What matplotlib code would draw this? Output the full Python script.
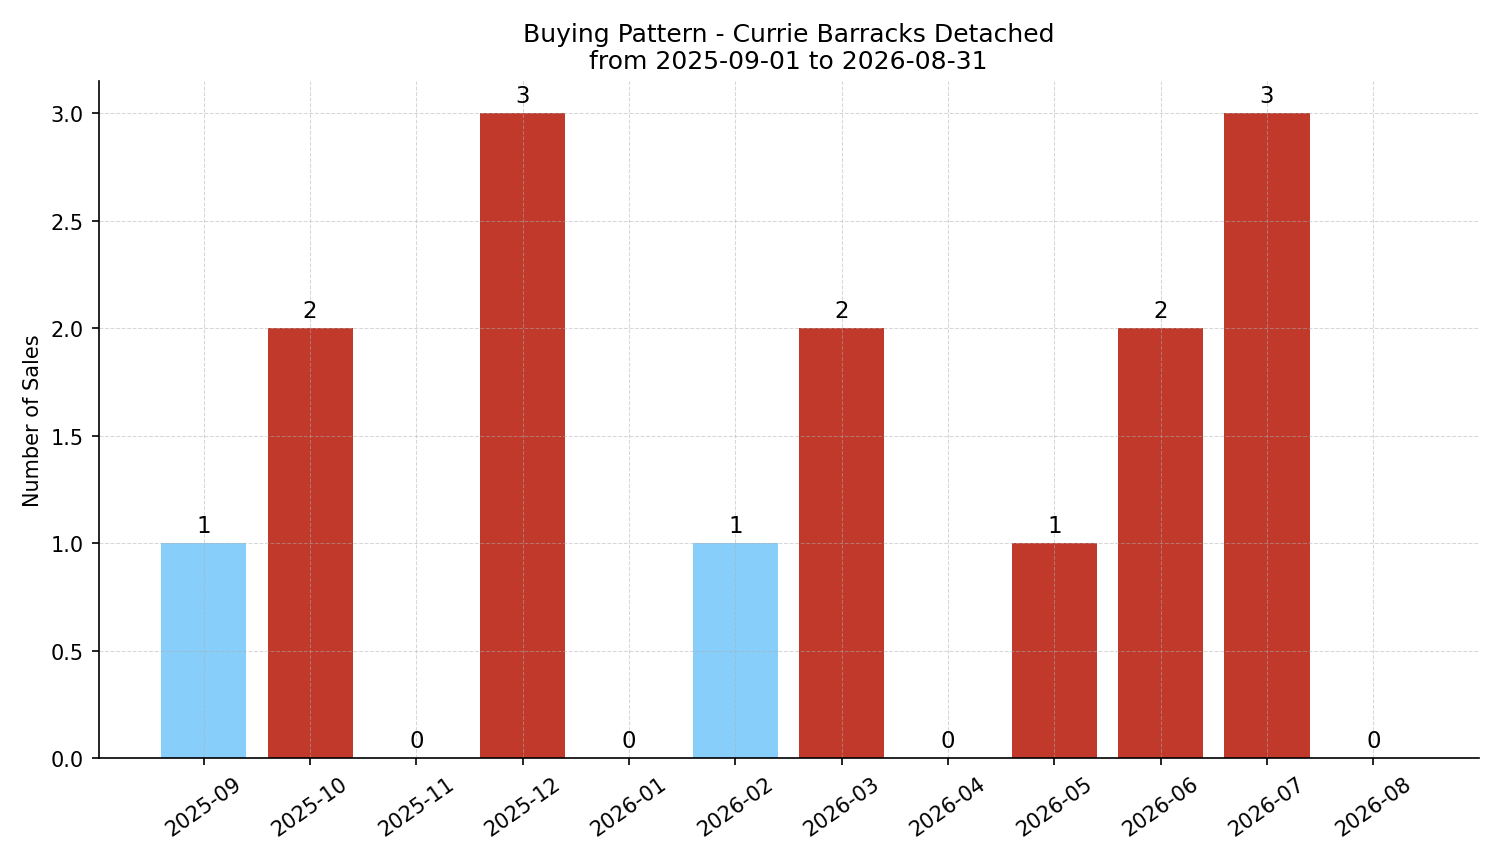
import matplotlib
matplotlib.use('Agg')
import matplotlib.pyplot as plt

months = ['2025-09', '2025-10', '2025-11', '2025-12', '2026-01', '2026-02',
          '2026-03', '2026-04', '2026-05', '2026-06', '2026-07', '2026-08']
sales = [1, 2, 0, 3, 0, 1, 2, 0, 1, 2, 3, 0]
colors = ['#87cefa', '#c0392b', '#c0392b', '#c0392b', '#c0392b', '#87cefa',
          '#c0392b', '#c0392b', '#c0392b', '#c0392b', '#c0392b', '#c0392b']

fig, ax = plt.subplots(figsize=(10.007, 5.753), dpi=150)
bars = ax.bar(months, sales, color=colors, width=0.8)
for b, v in zip(bars, sales):
    ax.text(b.get_x() + b.get_width() / 2, v + 0.03, str(v),
            ha='center', va='bottom', fontsize=11)

ax.set_title('Buying Pattern - Currie Barracks Detached\nfrom 2025-09-01 to 2026-08-31', fontsize=12)
ax.set_ylabel('Number of Sales')
ax.grid(True, linestyle='--', linewidth=0.5, alpha=0.5)
ax.spines['top'].set_visible(False)
ax.spines['right'].set_visible(False)
plt.xticks(rotation=35)
plt.tight_layout()
plt.savefig('out.png', dpi=150)
